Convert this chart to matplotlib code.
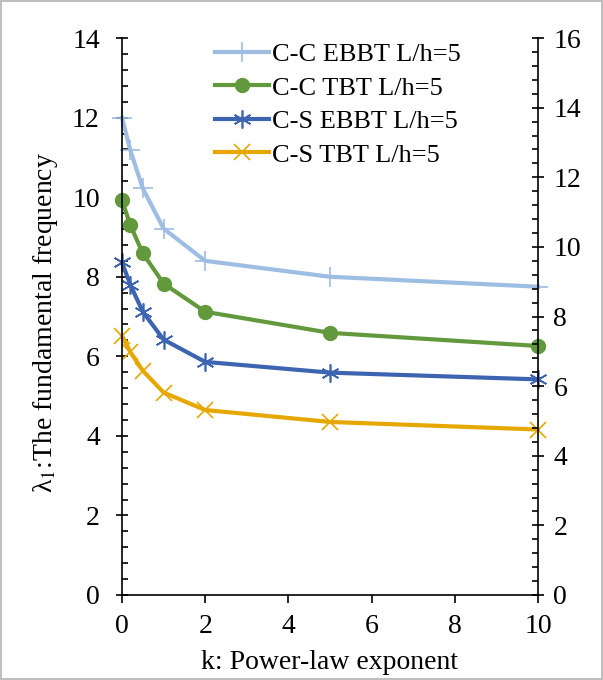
import numpy as np
import matplotlib
matplotlib.use('Agg')
import matplotlib.pyplot as plt
from matplotlib.ticker import MultipleLocator

plt.rcParams['font.family'] = ['Liberation Serif', 'DejaVu Serif']
plt.rcParams['mathtext.fontset'] = 'stix'

# power-law exponent
k = [0, 0.2, 0.5, 1, 2, 5, 10]

cc_ebbt = [12.0, 11.18, 10.22, 9.21, 8.40, 8.00, 7.75]
cc_tbt = [9.92, 9.30, 8.59, 7.83, 7.12, 6.59, 6.26]
cs_ebbt = [8.36, 7.80, 7.12, 6.42, 5.86, 5.59, 5.42]
cs_tbt = [6.52, 6.11, 5.64, 5.09, 4.65, 4.35, 4.16]

labels = ['C-C EBBT L/h=5', 'C-C TBT L/h=5', 'C-S EBBT L/h=5', 'C-S TBT L/h=5']

fig = plt.figure(figsize=(6.03, 6.8), dpi=100)
fig.patch.set_edgecolor('#BFBFBF')
fig.patch.set_linewidth(1.5)
ax = fig.add_axes([0.2023, 0.125, 0.6899, 0.819])

lw = 3
ax.plot(k, cc_ebbt, color='#9DBDE3', lw=lw, marker='+', ms=15, mew=1.2, label=labels[0], clip_on=False)
ax.plot(k, cc_tbt, color='#63993D', lw=lw, marker='o', ms=10, label=labels[1], clip_on=False)
ax.plot(k, cs_ebbt, color='#3D64B0', lw=lw, marker=(6, 2, 0), ms=13, mew=1.2, label=labels[2], clip_on=False)
ax.plot(k, cs_tbt, color='#E6A800', lw=lw, marker='x', ms=11, mew=1.2, label=labels[3], clip_on=False)

ax.set_xlim(0, 10)
ax.set_ylim(0, 14)
ax.xaxis.set_major_locator(MultipleLocator(2))
ax.yaxis.set_major_locator(MultipleLocator(2))
ax.yaxis.set_minor_locator(MultipleLocator(0.4))

ax.spines['top'].set_visible(False)
ax.spines['right'].set_visible(False)
for s in ['left', 'bottom']:
    ax.spines[s].set_linewidth(1.2)

fs = 20
ax.tick_params(axis='x', which='major', direction='out', length=6, width=1.2, labelsize=fs, pad=8)
ax.tick_params(axis='y', which='major', direction='inout', length=8, width=1.2, labelsize=fs, pad=12)
ax.tick_params(axis='y', which='minor', direction='in', length=4, width=1.2)

ax.set_xlabel('k: Power-law exponent', fontsize=fs, va='top')
ax.xaxis.set_label_coords(0.5, -0.098)
ax.set_ylabel('λ$_1$:The fundamental frequency', fontsize=fs)
ax.yaxis.set_label_coords(-0.15, 0.49)

ax2 = ax.twinx()
ax2.set_ylim(0, 16)
ax2.yaxis.set_major_locator(MultipleLocator(2))
ax2.yaxis.set_minor_locator(MultipleLocator(0.4))
for s in ['top', 'left', 'bottom']:
    ax2.spines[s].set_visible(False)
ax2.spines['right'].set_linewidth(1.2)
ax2.tick_params(axis='y', which='major', direction='inout', length=8, width=1.2, labelsize=fs, pad=7)
ax2.tick_params(axis='y', which='minor', direction='in', length=4, width=1.2)

leg = ax.legend(loc='upper left', bbox_to_anchor=(0.18, 1.025), frameon=False, fontsize=19,
                handlelength=2.05, handletextpad=0.1, labelspacing=0.38, borderpad=0.2)

fig.savefig('out.png', dpi=100)
